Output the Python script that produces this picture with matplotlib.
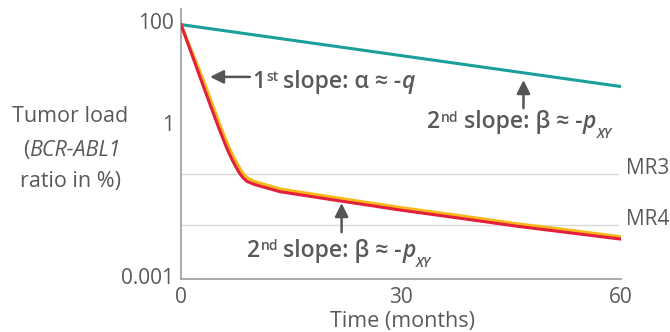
import matplotlib
matplotlib.use('Agg')
import matplotlib.pyplot as plt

FONT = ['Open Sans', 'DejaVu Sans']
plt.rcParams['font.family'] = FONT

TEXT = '#58595b'
AXIS = '#9d9d9d'
GRID = '#d9d9d9'
TEAL = '#19a09a'
RED = '#e31f3c'
YELLOW = '#f9b817'

# data (months, % BCR-ABL1)
teal_months = [0, 60]
teal_load = [87, 5.3]

red_months = [0, 3, 5, 6, 6.5, 7, 7.5, 8, 8.5, 9, 10, 11, 13.5, 20, 30, 38, 46, 53, 60]
red_load = [87, 5.6, 0.93, 0.40, 0.27, 0.19, 0.14, 0.105, 0.085, 0.073, 0.064,
            0.058, 0.046, 0.033, 0.020, 0.0139, 0.0096, 0.0072, 0.0054]

yellow_months = [0, 3, 5, 6, 6.5, 7, 7.5, 8, 8.5, 9, 10, 11, 13.5, 20, 30, 38, 46, 53, 60]
yellow_load = [87, 7.3, 1.22, 0.52, 0.35, 0.245, 0.18, 0.132, 0.102, 0.086, 0.073,
               0.066, 0.052, 0.037, 0.0224, 0.0156, 0.0107, 0.0081, 0.0060]

mr_levels = [0.1, 0.01]
mr_labels = ['MR3', 'MR4']

x_ticks = [0, 30, 60]
y_ticks = [0.001, 1, 100]
y_ticklabels = ['0.001', '1', '100']

W, H = 670, 332
fig = plt.figure(figsize=(W / 100, H / 100), dpi=100)
ax = fig.add_axes([181 / W, 53 / H, 440 / W, 270 / H])

ax.set_yscale('log')
ax.set_xlim(0, 60)
ax.set_ylim(8.93e-4, 175.8)

# molecular response levels
ax.hlines(mr_levels, 0, 59.6, color=GRID, lw=1.0, zorder=1)
for lvl, lab in zip(mr_levels, mr_labels):
    ax.text(1.012, lvl, lab, transform=ax.get_yaxis_transform(), fontsize=15,
            color=TEXT, va='baseline', ha='left', clip_on=False)

ax.plot(teal_months, teal_load, color=TEAL, lw=2.2, solid_capstyle='butt', zorder=3)
ax.plot(yellow_months, yellow_load, color=YELLOW, lw=2.3, zorder=3)
ax.plot(red_months, red_load, color=RED, lw=2.2, zorder=4)

for side in ['top', 'right']:
    ax.spines[side].set_visible(False)
for side in ['left', 'bottom']:
    ax.spines[side].set_color(AXIS)
    ax.spines[side].set_linewidth(1.2)

ax.set_xticks(x_ticks)
ax.set_yticks(y_ticks)
ax.set_yticklabels(y_ticklabels)
ax.minorticks_off()
ax.tick_params(length=0, labelsize=15, labelcolor=TEXT)
ax.tick_params(axis='x', pad=6)
ax.tick_params(axis='y', pad=5)

# axis titles
fig.text(402 / W, (H - 327) / H, 'Time (months)', fontsize=15.5, color=TEXT,
         ha='center', va='baseline')
fig.text(70 / W, (H - 122) / H, 'Tumor load', fontsize=15.5, color=TEXT,
         ha='center', va='baseline')
fig.text(29 / W, (H - 156) / H, '(', fontsize=15.5, color=TEXT, ha='right', va='baseline')
fig.text(29 / W, (H - 156) / H, 'BCR-ABL1', fontsize=15.5, color=TEXT,
         style='italic', ha='left', va='baseline')
fig.text(70 / W, (H - 187) / H, 'ratio in %)', fontsize=15.5, color=TEXT,
         ha='center', va='baseline')


def rich(x, y, parts):
    # parts: (text, size, style, rise in pt, gap in pt)
    prev, prev_rise = None, 0
    for s, size, style, rise, gap in parts:
        kw = dict(fontsize=size, fontweight='semibold', style=style, color=TEXT)
        if prev is None:
            prev = ax.text(x, y, s, va='baseline', ha='left', **kw)
        else:
            prev = ax.annotate(s, xy=(1, 0), xycoords=prev,
                               xytext=(gap, rise - prev_rise), textcoords='offset points',
                               va='bottom', ha='left', **kw)
        prev_rise = rise


def second_slope(x, y):
    rich(x, y, [('2', 16.5, 'normal', 0, 0),
                ('nd', 10, 'normal', 7, 0.5),
                ('slope: β ≈ -', 16.5, 'normal', 0, 3.5),
                ('p', 16.5, 'italic', 0, 0.5),
                ('XY', 10, 'italic', -5, 0.2)])


rich(9.7, 4.97, [('1', 16.5, 'normal', 0, 0),
                 ('st', 10, 'normal', 7, 0.5),
                 ('slope: α ≈ -', 16.5, 'normal', 0, 3.5),
                 ('q', 16.5, 'italic', 0, 0.5)])
second_slope(9.0, 0.00245)
second_slope(33.6, 0.805)

arrow = dict(arrowstyle='-|>', color='#555555', lw=1.8, mutation_scale=20,
             shrinkA=0, shrinkB=0)
ax.annotate('', xy=(3.96, 8.2), xytext=(9.4, 8.2), arrowprops=arrow)
ax.annotate('', xy=(21.9, 0.0275), xytext=(21.9, 0.0074), arrowprops=arrow)
ax.annotate('', xy=(46.7, 7.1), xytext=(46.7, 2.0), arrowprops=arrow)

fig.savefig('out.png', dpi=100)
